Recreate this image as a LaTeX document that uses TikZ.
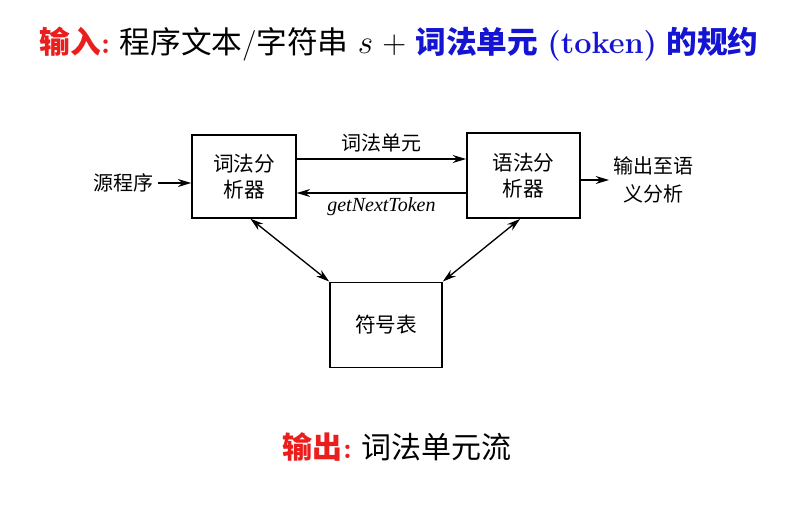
\documentclass[tikz,border=0pt]{standalone}
\usepackage{fontspec}
\usetikzlibrary{arrows.meta,calc}
\newfontfamily\cjk{Noto Sans CJK SC}
\newfontfamily\tms{Liberation Serif}
\definecolor{tred}{RGB}{235,30,30}
\definecolor{tblue}{RGB}{20,20,210}
\tikzset{
  box/.style={draw, line width=1.2pt, align=center, font=\cjk\fontsize{15.5}{20}\selectfont},
  lbl/.style={align=center, font=\cjk\fontsize{15}{21}\selectfont},
  arr/.style={line width=1pt, -{Stealth[length=10pt,width=6pt]}},
  darr/.style={line width=1pt, {Stealth[length=10pt,width=6pt]}-{Stealth[length=10pt,width=6pt]}},
}
\begin{document}
\begin{tikzpicture}[x=0.75pt,y=-0.75pt]
\useasboundingbox[fill=white] (0,0) rectangle (796,519);
% title
\node[font=\fontsize{23}{28}\selectfont] (title) at (399,44) {%
\textcolor{tred}{\cjk\bfseries 输入}\textcolor{tred}{\bfseries :}\ {\cjk 程序文本}/{\cjk 字符串} $s$ $+$ \textcolor{tblue}{\cjk\bfseries 词法单元} \textcolor{tblue}{\bfseries (token)} \textcolor{tblue}{\cjk\bfseries 的规约}};
% boxes
\node[box, minimum width=78pt, minimum height=62pt] (lex) at (244,176.5) {词法分\\析器};
\node[box, minimum width=85pt, minimum height=64pt] (syn) at (523.5,175.5) {语法分\\析器};
\node[box, minimum width=84pt, minimum height=64pt] (sym) at (386,325) {符号表};
% side labels
\node[lbl, anchor=east] (src) at (158,183) {源程序};
\node[lbl, anchor=west] (out) at (609,180) {输出至语\\义分析};
% connectors
\draw[arr] (src.east) -- (lex.west |- src.east);
\draw[arr] (syn.east |- out.west) -- (out.west);
\coordinate (t1) at (0,159);
\coordinate (t2) at (0,193);
\draw[arr] (lex.east |- t1) -- node[lbl, above=1pt] (tok) {词法单元} (syn.west |- t1);
\draw[arr] (syn.west |- t2) -- node[below=0pt, font=\tms\itshape\fontsize{15}{17}\selectfont] (gnt) {getNextToken} (lex.east |- t2);
\draw[darr] ($(lex.south west)!0.56!(lex.south east)$) -- (sym.north west);
\draw[darr] ($(syn.south west)!0.47!(syn.south east)$) -- (sym.north east);
% output line
\node[font=\fontsize{22.5}{27}\selectfont] (outl) at (397,447) {%
\textcolor{tred}{\cjk\bfseries 输出}\textcolor{tred}{\bfseries :}\ {\cjk 词法单元流}};
\end{tikzpicture}
\end{document}
